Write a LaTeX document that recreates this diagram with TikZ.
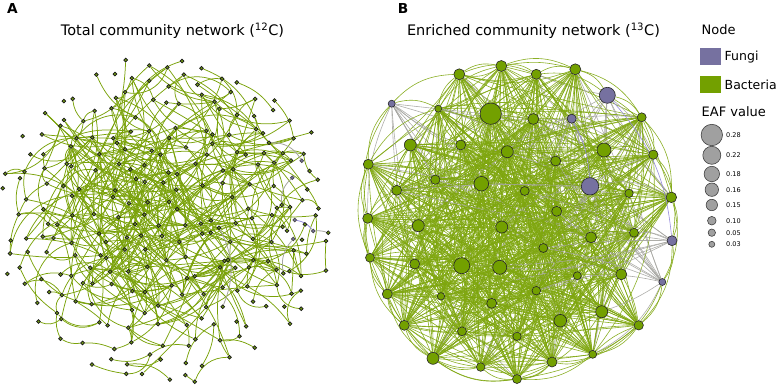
\documentclass[tikz,border=0pt]{standalone}
\usepackage{fontspec}
\setmainfont{DejaVu Sans}
\pgfdeclarelayer{edges}
\pgfsetlayers{edges,main}
\definecolor{bac}{RGB}{115,160,0}
\definecolor{fun}{RGB}{118,113,160}
\definecolor{edgegreen}{RGB}{122,162,10}
\definecolor{bedgegreen}{RGB}{126,166,14}
\definecolor{edgegrey}{RGB}{165,165,160}
\definecolor{edgelav}{RGB}{150,140,220}
\definecolor{anodefill}{RGB}{110,150,20}
\definecolor{eafgrey}{RGB}{160,160,160}
\tikzset{
  anode/.style={circle,inner sep=0pt,minimum size=3.8pt,fill=anodefill,draw=black!90,line width=0.7pt},
  afun/.style={circle,inner sep=0pt,minimum size=3.8pt,fill=fun,draw=black!70,line width=0.7pt},
  aedge/.style={draw=edgegreen,line width=0.75pt},
  agrey/.style={draw=edgegrey,line width=0.8pt},
  alav/.style={draw=edgelav,line width=0.8pt},
  b node/.style={circle,inner sep=0pt,fill=bac,draw=black!85,line width=0.6pt},
  f node/.style={circle,inner sep=0pt,fill=fun,draw=black!85,line width=0.6pt},
  bedge/.style={draw=bedgegreen,line width=0.6pt,opacity=0.9},
  fedge/.style={draw=edgegrey,line width=0.6pt,opacity=0.9},
  titlef/.style={font=\fontsize{14.5}{16}\selectfont,inner sep=0pt},
  panel/.style={font=\bfseries\fontsize{13.7}{15}\selectfont,inner sep=0pt},
  legt/.style={font=\fontsize{12.5}{15}\selectfont,inner sep=0pt,anchor=west},
  eaft/.style={font=\fontsize{6.5}{8}\selectfont,inner sep=0pt,anchor=west},
  eafc/.style={circle,inner sep=0pt,fill=eafgrey,draw=black!75,line width=0.6pt}
}
\begin{document}
\begin{tikzpicture}[x=1pt,y=-1pt]
\useasboundingbox (0,0) rectangle (778,386);
\pgfmathsetseed{11}

% ---------------- titles ----------------
\node[panel] (la) at (12.5,8.5) {A};
\node[titlef] (ta) at (172.5,31) {Total community network (\textsuperscript{12}C)};
\node[panel] (lb) at (403,8.5) {B};
\node[titlef] (tb) at (533.5,31) {Enriched community network (\textsuperscript{13}C)};

% ---------------- legend ----------------
\node[legt,font=\fontsize{13}{15}\selectfont] (lnode) at (701.5,30) {Node};
\node[fill=fun,minimum width=20.7pt,minimum height=16.7pt,inner sep=0pt] (sqf) at (710.3,56.6) {};
\node[legt] (lfun) at (724.5,57) {Fungi};
\node[fill=bac,minimum width=20.7pt,minimum height=17.3pt,inner sep=0pt] (sqb) at (710.3,84.6) {};
\node[legt] (lbac) at (724.5,85) {Bacteria};
\node[legt,font=\fontsize{13}{15}\selectfont] (leaf) at (701.5,112) {EAF value};
\foreach \yy/\rr/\lab [count=\k] in {135/10.7/0.28,155.3/9/0.22,174/7.7/0.18,189.7/6.7/0.16,205/5.7/0.15,220.7/4.3/0.10,232.7/3.7/0.05,244.3/3/0.03}{
  \node[eafc,minimum size=\rr*2pt] (ec\k) at (711.8,\yy) {};
  \node[eaft] (el\k) at (726,\yy) {\lab};
}

% ---------------- network A (nodes) ----------------
\foreach \ra in {0,...,18}{
  \foreach \ca in {0,...,18}{
    \pgfmathsetmacro\dd{(\ca-9)*(\ca-9)/92.16+(\ra-9)*(\ra-9)/86.5}
    \pgfmathsetmacro\q{rnd}
    \ifdim\dd pt<1pt
      \ifdim\q pt<0.88pt
        \pgfmathsetmacro\px{165+(\ca-9)*17.5+rand*7}
        \pgfmathsetmacro\py{220+(\ra-9)*17.5+rand*7}
        \node[anode] (a\ra x\ca) at (\px,\py) {};
        \expandafter\xdef\csname ex\ra x\ca\endcsname{1}
      \fi
    \fi
  }
}
\node[afun] (af1) at (301.7,160.7) {};
\node[afun] (af2) at (292.3,177.7) {};
\node[afun] (af3) at (294.7,220) {};
\node[afun] (af4) at (313.3,231) {};
\node[afun] (af5) at (293.3,239) {};
\node[anode] (ax1) at (269,142.7) {};
\node[anode] (ax2) at (281.7,205) {};
\node[anode] (ax3) at (328.3,232.7) {};
\node[anode] (ax4) at (283.3,273.3) {};
\node[anode] (ax5) at (219,227.7) {};
\node[anode] (ax6) at (222.7,306.7) {};

% ---------------- network A (edges) ----------------
\begin{pgfonlayer}{edges}
\foreach \ra in {0,...,18}{
  \foreach \ca in {0,...,18}{
    \ifcsname ex\ra x\ca\endcsname
      \pgfmathsetmacro\dd{((\ca-8.8)*(\ca-8.8)+(\ra-8)*(\ra-8))/90}
      \ifdim\dd pt<0.3pt
        \def\kk{6}\def\rg{5.4}%
      \else
        \ifdim\dd pt<0.6pt
          \def\kk{3}\def\rg{4.2}%
        \else
          \def\kk{1}\def\rg{2.6}%
        \fi
      \fi
      \foreach \k in {1,...,\kk}{
        \pgfmathtruncatemacro\tr{\ra+round(rand*\rg)}
        \pgfmathtruncatemacro\tc{\ca+round(rand*\rg)}
        \pgfmathsetmacro\bb{rand*45}
        \pgfmathtruncatemacro\same{and(\tr==\ra,\tc==\ca)}
        \ifcsname ex\tr x\tc\endcsname
          \ifnum\same=0
            \draw[aedge] (a\ra x\ca) to[bend left=\bb] (a\tr x\tc);
          \fi
        \fi
      }
    \fi
  }
}
\draw[agrey] (af1) to[bend right=30] (ax1);
\draw[agrey] (af2) to[bend right=25] (ax2);
\draw[alav] (af3) to[bend left=20] (af4);
\draw[agrey] (af4) to[bend left=10] (ax3);
\draw[agrey] (af5) to[bend right=25] (ax4);
\draw[agrey] (ax5) to[bend left=25] (ax6);
\end{pgfonlayer}

% ---------------- network B (nodes) ----------------
\foreach \x/\y/\rad/\ty [count=\i] in {
459.3/74.3/5.5/b, 501.3/66/5.5/b, 536.3/74.3/5/b, 575.3/69.3/5.5/b, 607.3/95.3/8/f,
391.7/103.7/3.5/f, 438.3/108.7/3.5/b, 490.7/113.7/10.7/b, 533.3/119/5.5/b, 571.7/118.7/4.5/f,
641.7/117.3/4.5/b, 410.3/145/6/b, 460.7/145/5/b, 507.3/151.7/6/b, 604/150/7/b,
653.3/154.7/4.7/b, 368.3/164.3/5/b, 555.7/161/5/b, 435.3/179.7/4.7/b, 481.3/183.7/7.3/b,
590/186.3/8.7/f, 396.7/190.3/5/b, 524.7/191/4.5/b, 629/193.3/4.2/b, 671.3/197.3/5.3/b,
367.7/218.3/5/b, 556.7/211.3/5/b, 418.3/225.7/6/b, 501.7/227/6/b, 634/232.7/4.5/b,
591/237.3/5.5/b, 672/240.7/5/f, 543.3/248/4.5/b, 370/257.7/4.5/b, 414.7/264/5/b,
461.7/265.7/8/b, 499.7/267.3/7/b, 577.3/275.7/4/b, 621.3/274.3/5.5/b, 662.3/282/3.5/f,
387.3/294/5/b, 441/296.3/3.7/b, 536.3/290.7/4.3/b, 491.7/303.3/5/b, 601.7/311.7/6/b,
560.3/320.7/6.3/b, 404.3/325.3/5/b, 462/331.3/4.5/b, 638.7/325.3/4.7/b, 517/336.3/4.2/b,
433/358.3/6/b, 480.7/367/4.3/b, 552/362/5/b, 592.7/354.3/4/b, 517/379/4.5/b}{
  \node[\ty\space node,minimum size=\rad*2pt] (b\i) at (\x,\y) {};
  \expandafter\xdef\csname bt\i\endcsname{\ty}
}

% ---------------- network B (edges) ----------------
\def\bbtype{bb}
\begin{pgfonlayer}{edges}
\foreach \i in {1,...,54}{
  \pgfmathtruncatemacro\jstart{\i+1}
  \foreach \j in {\jstart,...,55}{
    \pgfmathsetmacro\p{rnd}
    \pgfmathsetmacro\bb{rand*22}
    \edef\tp{\csname bt\i\endcsname\csname bt\j\endcsname}
    \ifx\tp\bbtype
      \ifdim\p pt<0.66pt \draw[bedge] (b\i) to[bend left=\bb] (b\j);\fi
    \else
      \ifdim\p pt<0.22pt \draw[fedge] (b\i) to[bend left=\bb] (b\j);\fi
    \fi
  }
}
% outer rim arcs between peripheral nodes (clockwise order)
\foreach \u/\v in {2/3,3/4,4/5,5/11,11/16,16/25,25/32,32/40,40/49,49/54,54/53,53/55,55/52,52/51,51/47,47/41,41/34,34/26,26/17,17/6,6/7,7/1,1/2,
                   2/4,4/11,11/25,25/40,40/54,54/55,55/51,51/41,41/26,26/6,6/1,1/3,3/5,5/16,16/32,32/49,49/53,53/52,52/47,47/34,34/17,17/7,7/2}{
  \draw[bedge] (b\u) to[bend left=22] (b\v);
}
\draw[edgelav,line width=0.6pt] (b5) to[bend left=18] (b32);
\draw[edgelav,line width=0.6pt] (b10) to[bend left=12] (b21);
\end{pgfonlayer}
\end{tikzpicture}
\end{document}
